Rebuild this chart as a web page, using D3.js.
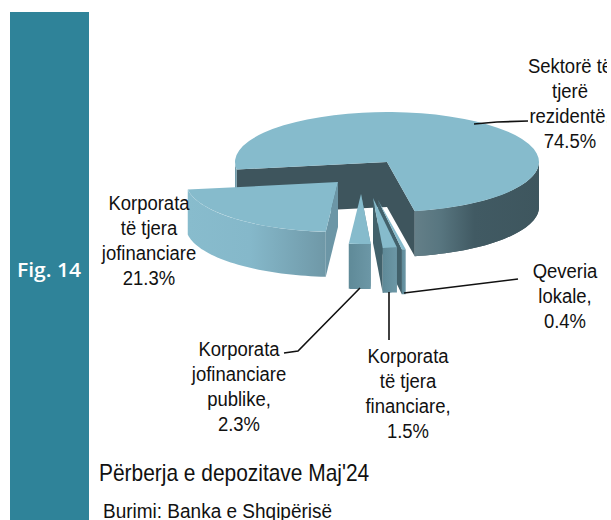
<!DOCTYPE html>
<html>
<head>
    <meta charset="utf-8">
    <title>Fig. 14</title>
    <script src="https://cdnjs.cloudflare.com/ajax/libs/d3/7.1.1/d3.min.js"></script>
    <style>
        html, body { margin: 0; padding: 0; background: #fff; overflow: hidden; }
        text { font-family: "Liberation Sans", sans-serif; fill: #111; }
    </style>
</head>
<body>
    <div id="chart"></div>
    <script type="text/javascript">
        // data
        const categories = ["Sektorë të tjerë rezidentë", "Qeveria lokale", "Korporata të tjera financiare", "Korporata jofinanciare publike", "Korporata të tjera jofinanciare"];
        const values = [74.5, 0.4, 1.5, 2.3, 21.3];
        const labelLines = [
            ["Sektorë të", "tjerë", "rezidentë,", "74.5%"],
            ["Qeveria", "lokale,", "0.4%"],
            ["Korporata", "të tjera", "financiare,", "1.5%"],
            ["Korporata", "jofinanciare", "publike,", "2.3%"],
            ["Korporata", "të tjera", "jofinanciare", "21.3%"]
        ];

        // layout
        const width = 611;
        const height = 520;
        const cx = 387, cy = 162;
        const rx = 152, ry = 50;
        const depth = 45;
        const startDeg = -98.7;
        const explode = [[0, 0], [-9, 38], [-14, 36], [-26, 32], [-49, 20]];
        const labelPos = [[570, 73], [565, 278], [408, 363], [239, 356], [149, 210]];
        const leaders = [
            [[474, 124], [497, 122], [528, 121]],
            [[404, 293], [518, 279]],
            [[389, 292], [389, 340]],
            [[360, 288], [298, 351], [284, 353]]
        ];

        const svg = d3.select("#chart")
            .append("svg")
            .attr("width", width)
            .attr("height", height);

        const defs = svg.append("defs");
        function gradient(id, stops) {
            const g = defs.append("linearGradient").attr("id", id);
            stops.forEach(s => g.append("stop").attr("offset", s[0]).attr("stop-color", s[1]));
        }
        gradient("wallBig", [[0, "#647f88"], [0.2, "#587680"], [0.48, "#415a63"], [1, "#3e565e"]]);
        gradient("wallLeft", [[0, "#88bccd"], [0.45, "#85b8ca"], [1, "#6f98a7"]]);
        gradient("wallSmall", [[0, "#5f8a98"], [1, "#6c97a6"]]);
        defs.append("clipPath").attr("id", "page")
            .append("rect").attr("width", 607).attr("height", height);

        // sidebar
        svg.append("rect").attr("x", 10).attr("y", 12).attr("width", 79).attr("height", 508).attr("fill", "#2f8399");
        svg.append("text").attr("x", 17).attr("y", 277)
            .style("font-family", "'Open Sans'").style("font-size", "20px").style("font-weight", 600)
            .style("fill", "#fff").attr("textLength", 64).attr("lengthAdjust", "spacingAndGlyphs").text("Fig. 14");

        // pie angles
        const start = startDeg * Math.PI / 180;
        const pie = d3.pie().value(d => d).sort(null).startAngle(start).endAngle(start + 2 * Math.PI);
        const arcs = pie(values);
        const topArc = d3.arc().innerRadius(0).outerRadius(rx);

        const px = a => rx * Math.sin(a);
        const py = a => -ry * Math.cos(a);
        const line = d3.line();

        // curved outer wall between two angles
        function outerWall(a0, a1) {
            const n = 40;
            const pts = d3.range(n + 1).map(i => a0 + (a1 - a0) * i / n);
            const upper = pts.map(a => [px(a), py(a)]);
            const lower = pts.slice().reverse().map(a => [px(a), py(a) + depth]);
            return line(upper.concat(lower)) + "Z";
        }
        // flat wall from the centre out to one edge
        function radiusWall(a) {
            return line([[0, 0], [px(a), py(a)], [px(a), py(a) + depth], [0, depth]]) + "Z";
        }

        const topColor = "#86bbcc";
        const darkWall = "#3e555d";

        const g = svg.append("g").selectAll("g")
            .data(arcs)
            .enter()
            .append("g")
            .attr("transform", (d, i) => "translate(" + (cx + explode[i][0]) + "," + (cy + explode[i][1]) + ")");

        g.each(function(d, i) {
            const s = d3.select(this);
            if (i === 0) {
                s.append("path").attr("d", radiusWall(d.startAngle)).attr("fill", darkWall);
                s.append("path").attr("d", radiusWall(d.endAngle)).attr("fill", darkWall);
                s.append("path").attr("d", outerWall(Math.PI / 2, d.endAngle)).attr("fill", darkWall);
                s.append("path").attr("d", outerWall(d.endAngle, Math.PI / 2)).attr("fill", "url(#wallBig)");
                s.append("path").attr("d", outerWall(d.startAngle, -Math.PI / 2)).attr("fill", "#6f9aa9");
            } else if (i === 4) {
                s.append("path").attr("d", radiusWall(d.startAngle)).attr("fill", "#6c96a6");
                s.append("path").attr("d", outerWall(d.startAngle, d.endAngle)).attr("fill", "url(#wallLeft)");
            } else {
                s.append("path").attr("d", radiusWall(i === 3 ? d.startAngle : d.endAngle)).attr("fill", i === 3 ? "#5f8a98" : "#42616b");
                s.append("path").attr("d", outerWall(d.startAngle, d.endAngle)).attr("fill", "url(#wallSmall)");
            }
            s.append("path")
                .attr("d", topArc(d))
                .attr("transform", "scale(1," + (ry / rx) + ")")
                .attr("fill", topColor);
        });

        // leader lines
        svg.append("g").selectAll("path")
            .data(leaders)
            .enter()
            .append("path")
            .attr("d", d => line(d))
            .attr("fill", "none")
            .attr("stroke", "#111")
            .attr("stroke-width", 1.6);

        // labels, squeezed sideways to get the narrow look of the original
        const labels = svg.append("g").attr("clip-path", "url(#page)").selectAll("text")
            .data(labelLines)
            .enter()
            .append("text")
            .attr("text-anchor", "middle")
            .attr("transform", (d, i) => "translate(" + labelPos[i][0] + "," + labelPos[i][1] + ") scale(0.88,1)")
            .style("font-size", "21px");
        labels.each(function(d) {
            d3.select(this).selectAll("tspan")
                .data(d)
                .enter()
                .append("tspan")
                .attr("x", 0)
                .attr("y", (t, j) => j * 25)
                .text(t => t);
        });

        // captions
        svg.append("text").attr("transform", "translate(99,481) scale(0.91,1)").style("font-size", "23px").text("Përberja e depozitave Maj'24");
        svg.append("text").attr("transform", "translate(103,518) scale(0.905,1)").style("font-size", "21px").text("Burimi: Banka e Shqipërisë");
    </script>
</body>
</html>
